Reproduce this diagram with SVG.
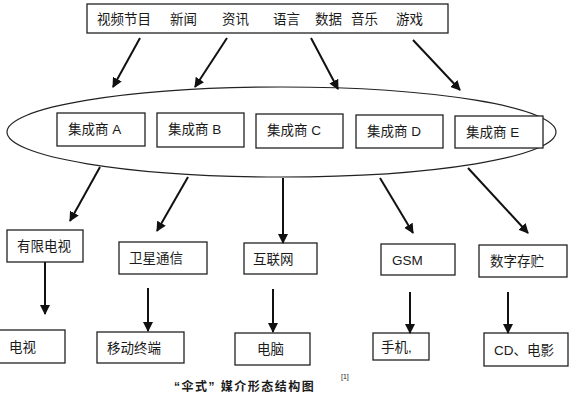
<svg xmlns="http://www.w3.org/2000/svg" width="570" height="401" viewBox="0 0 570 401">
<style>
text{font-family:"Liberation Sans","Noto Sans CJK SC",sans-serif;fill:#1a1a1a}
.t{font-size:13.5px}
.b{fill:#fff;stroke:#222;stroke-width:1.3}
.c{stroke:#111;stroke-width:2;fill:none;marker-end:url(#ah)}
.cap{font-size:12px;font-weight:bold;letter-spacing:1.5px}
</style>
<defs>
<marker id="ah" viewBox="0 0 10 10" refX="9" refY="5" markerWidth="5" markerHeight="5" orient="auto" markerUnits="strokeWidth">
<path d="M0,0 L10,5 L0,10 z" fill="#111"/>
</marker>
</defs>
<rect width="570" height="401" fill="#fff"/>

<g id="sources">
<rect class="b" x="87" y="4" width="361" height="29"/>
<text class="t" x="97" y="24">视频节目</text>
<text class="t" x="170" y="24">新闻</text>
<text class="t" x="222" y="24">资讯</text>
<text class="t" x="273" y="24">语言</text>
<text class="t" x="315" y="24">数据</text>
<text class="t" x="351" y="24">音乐</text>
<text class="t" x="396" y="24">游戏</text>
</g>

<g id="integrators">
<ellipse cx="281.5" cy="132" rx="274.5" ry="45" fill="none" stroke="#222" stroke-width="1.2"/>
</g>
<g id="intA"><rect class="b" x="57" y="113" width="88" height="33"/><text class="t" x="68" y="134">集成商 A</text></g>
<g id="intB"><rect class="b" x="157" y="113" width="87" height="34"/><text class="t" x="168" y="134">集成商 B</text></g>
<g id="intC"><rect class="b" x="256" y="114" width="87" height="34"/><text class="t" x="267" y="135">集成商 C</text></g>
<g id="intD"><rect class="b" x="356" y="115" width="87" height="33"/><text class="t" x="367" y="136">集成商 D</text></g>
<g id="intE"><rect class="b" x="455" y="116" width="88" height="32"/><text class="t" x="466" y="137">集成商 E</text></g>

<g id="n1"><rect class="b" x="7" y="230" width="76" height="32"/><text class="t" x="17" y="251">有限电视</text></g>
<g id="n2"><rect class="b" x="119" y="242" width="88" height="32"/><text class="t" x="129" y="263">卫星通信</text></g>
<g id="n3"><rect class="b" x="244" y="243" width="73" height="31"/><text class="t" x="253" y="264">互联网</text></g>
<g id="n4"><rect class="b" x="381" y="244" width="74" height="31"/><text class="t" x="392" y="265">GSM</text></g>
<g id="n5"><rect class="b" x="479" y="245" width="88" height="32"/><text class="t" x="490" y="266">数字存贮</text></g>

<g id="d1"><rect class="b" x="-1" y="330" width="66" height="33"/><text class="t" x="9" y="352">电视</text></g>
<g id="d2"><rect class="b" x="97" y="332" width="87" height="31"/><text class="t" x="107" y="353">移动终端</text></g>
<g id="d3"><rect class="b" x="235" y="333" width="75" height="32"/><text class="t" x="257" y="354">电脑</text></g>
<g id="d4"><rect class="b" x="373" y="333" width="56" height="27"/><text class="t" x="381" y="352">手机,</text></g>
<g id="d5"><rect class="b" x="484" y="333" width="84" height="33"/><text class="t" x="494" y="355">CD、电影</text></g>

<g id="connectors">
<line class="c" x1="140" y1="38" x2="113" y2="87"/>
<line class="c" x1="227" y1="38" x2="195" y2="87"/>
<line class="c" x1="311" y1="38" x2="338" y2="89"/>
<line class="c" x1="413" y1="40" x2="460" y2="90"/>
<line class="c" x1="100" y1="167" x2="70" y2="221"/>
<line class="c" x1="188" y1="177" x2="157" y2="231"/>
<line class="c" x1="283" y1="178" x2="283" y2="243"/>
<line class="c" x1="380" y1="178" x2="413" y2="233"/>
<line class="c" x1="468" y1="168" x2="528" y2="233"/>
<line class="c" x1="45" y1="262" x2="45" y2="314"/>
<line class="c" x1="148" y1="288" x2="148" y2="331"/>
<line class="c" x1="273" y1="289" x2="273" y2="332"/>
<line class="c" x1="410" y1="292" x2="410" y2="333"/>
<line class="c" x1="508" y1="292" x2="508" y2="333"/>
</g>

<text x="341" y="379" font-size="7">[1]</text>
<text class="cap" x="174" y="391">“伞式” 媒介形态结构图</text>
</svg>
